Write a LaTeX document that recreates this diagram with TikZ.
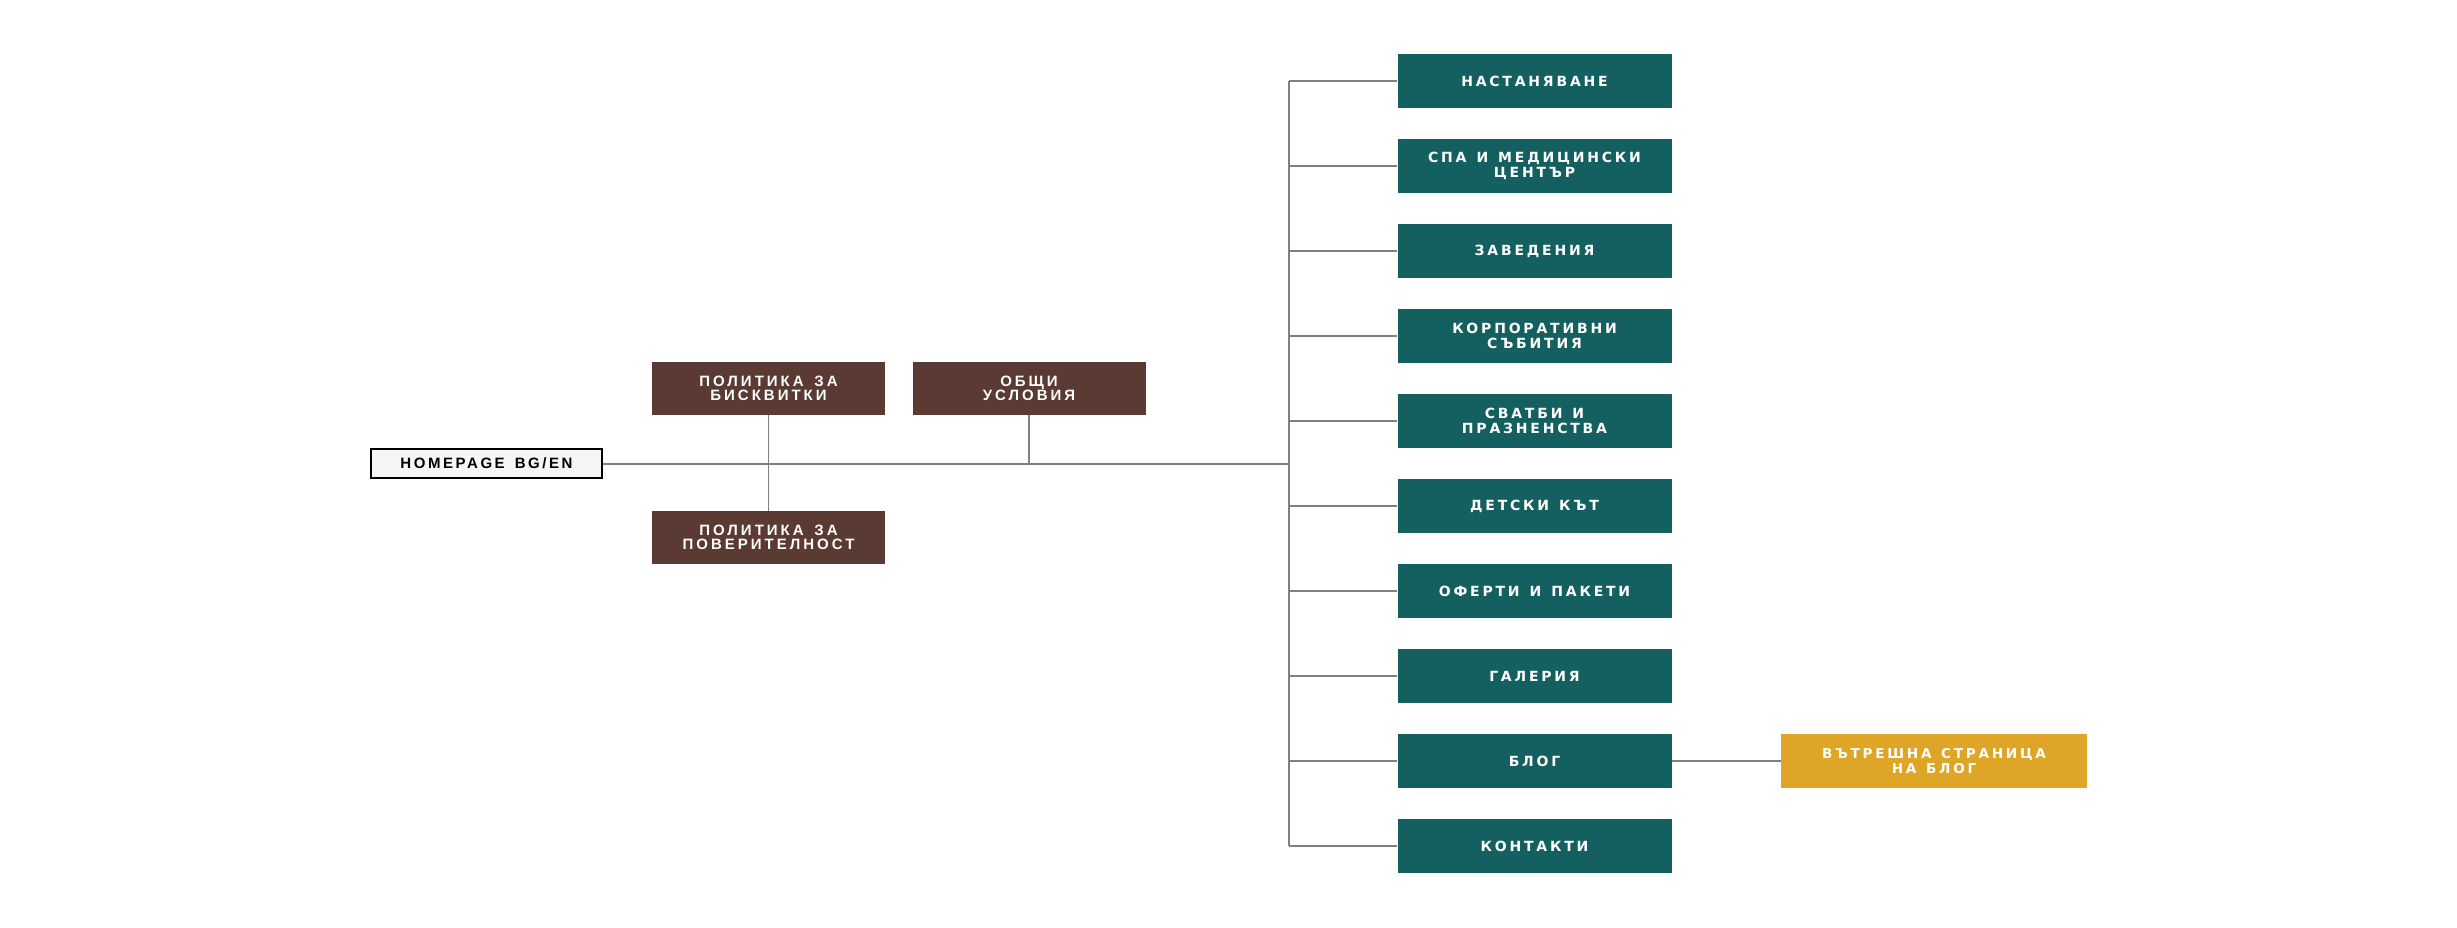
\documentclass[tikz,border=0pt]{standalone}
\usepackage{fontspec}
\setmainfont{Liberation Sans}
\newfontfamily\widefont[LetterSpace=20,WordSpace=1.3]{DejaVu Sans}
\newfontfamily\narrowfont[LetterSpace=20,WordSpace=1.5]{Liberation Sans}
\newfontfamily\homefont[LetterSpace=17,WordSpace=1.5]{Liberation Sans}
\definecolor{tealbox}{HTML}{145F5F}
\definecolor{brownbox}{HTML}{5A3A32}
\definecolor{yellowbox}{HTML}{DFA526}
\definecolor{linegray}{HTML}{808080}
\definecolor{homefill}{HTML}{F6F6F6}
\tikzset{
  conn/.style={draw=linegray, line width=1.6pt},
  tealnode/.style={fill=tealbox, text=white, minimum width=274pt, minimum height=54pt, inner sep=0pt, align=center, font=\widefont\bfseries\fontsize{14}{15}\selectfont},
  brownnode/.style={fill=brownbox, text=white, minimum width=233pt, minimum height=53pt, inner sep=0pt, align=center, font=\narrowfont\bfseries\fontsize{15}{14}\selectfont},
  yellownode/.style={fill=yellowbox, text=white, minimum width=306pt, minimum height=54pt, inner sep=0pt, align=center, font=\widefont\bfseries\fontsize{13.6}{15}\selectfont},
  homenode/.style={fill=homefill, draw=black, line width=2.5pt, minimum width=231pt, minimum height=29pt, inner sep=0pt, align=center, font=\homefont\bfseries\fontsize{15}{14}\selectfont}
}
\begin{document}
\begin{tikzpicture}[x=1pt,y=-1pt]
\useasboundingbox (0,0) rectangle (2457,927);
\node[homenode] (home) at (486.5,463.5) {HOMEPAGE BG/EN};
\node[brownnode] (b1) at (768.5,388.5) {ПОЛИТИКА ЗА\\БИСКВИТКИ};
\node[brownnode] (b2) at (1029,388.5) {ОБЩИ\\УСЛОВИЯ};
\node[brownnode] (b3) at (768.5,537.5) {ПОЛИТИКА ЗА\\ПОВЕРИТЕЛНОСТ};
\node[tealnode] (t0) at (1534.5,81) {НАСТАНЯВАНЕ};
\node[tealnode] (t1) at (1534.5,166) {СПА И МЕДИЦИНСКИ\\ЦЕНТЪР};
\node[tealnode] (t2) at (1534.5,251) {ЗАВЕДЕНИЯ};
\node[tealnode] (t3) at (1534.5,336) {КОРПОРАТИВНИ\\СЪБИТИЯ};
\node[tealnode] (t4) at (1534.5,421) {СВАТБИ И\\ПРАЗНЕНСТВА};
\node[tealnode] (t5) at (1534.5,506) {ДЕТСКИ КЪТ};
\node[tealnode] (t6) at (1534.5,591) {ОФЕРТИ И ПАКЕТИ};
\node[tealnode] (t7) at (1534.5,676) {ГАЛЕРИЯ};
\node[tealnode] (t8) at (1534.5,761) {БЛОГ};
\node[tealnode] (t9) at (1534.5,846) {КОНТАКТИ};
\node[yellownode] (y) at (1934,761) {ВЪТРЕШНА СТРАНИЦА\\НА БЛОГ};
\coordinate (trtop) at (1289,81);
\coordinate (trbot) at (1289,846);
\coordinate (trmid) at (1289,464);
\coordinate (j2) at (1029,464);
\draw[conn] (trtop) -- (trbot);
\draw[conn] (home.east |- trmid) -- (trmid);
\draw[conn] (b1.south) -- (b3.north);
\draw[conn] (b2.south) -- (j2);
\foreach \i in {0,...,9}{
  \draw[conn] (trtop |- t\i.west) -- (t\i.west);
}
\draw[conn] (t8.east) -- (y.west);
\end{tikzpicture}
\end{document}
